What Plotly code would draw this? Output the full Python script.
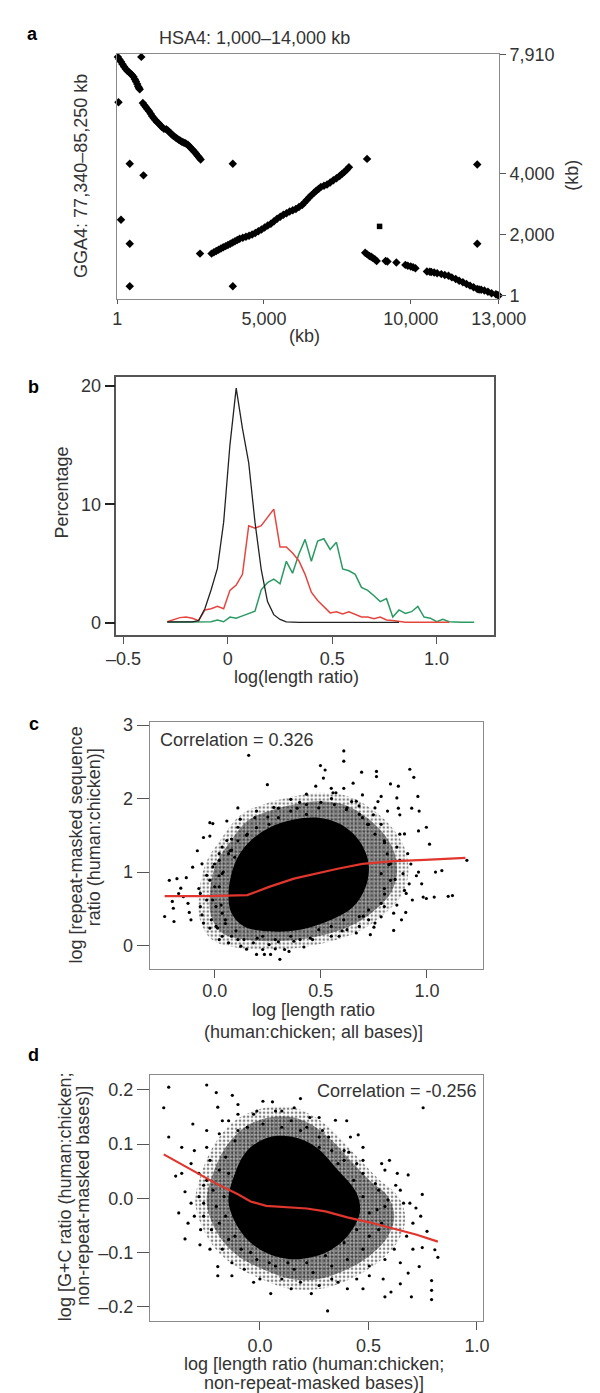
import plotly.graph_objects as go

FONT = "Liberation Sans, Arial, Helvetica, sans-serif"
W, H = 600, 1393

# ---------------- Panel a data (kb) ----------------
a_seg1_x = [21, 75, 128, 180, 234, 290, 340, 395, 447, 500, 553, 600, 638, 680, 713, 740, 766,
            872, 925, 979, 1030, 1085, 1140, 1192, 1245, 1298, 1350, 1404, 1460, 1511, 1590, 1670,
            1720, 1777, 1830, 1883, 1935, 1990, 2040, 2096, 2150, 2202, 2255, 2309, 2360, 2415,
            2470, 2522, 2575, 2628, 2680, 2735, 2790, 2841]
a_seg1_y = [7834, 7750, 7671, 7590, 7509, 7440, 7379, 7335, 7293, 7240, 7185, 7100, 7023, 6940,
            6861, 6810, 6774, 6320, 6250, 6180, 6115, 6051, 5970, 5889, 5820, 5759, 5700, 5652,
            5600, 5543, 5470, 5458, 5415, 5370, 5320, 5263, 5225, 5186, 5150, 5111, 5080, 5046,
            5025, 5004, 4975, 4939, 4885, 4829, 4775, 4722, 4660, 4592, 4530, 4463]
a_seg2_x = [3213, 3293, 3373, 3453, 3533, 3612, 3692, 3772, 3852, 3931, 4011, 4091, 4171, 4278,
            4384, 4490, 4596, 4703, 4809, 4915, 5022, 5128, 5235, 5341, 5448, 5554, 5660, 5766,
            5873, 5980, 6086, 6192, 6299, 6380, 6458, 6538, 6618, 6698, 6778, 6858, 6937, 7044,
            7150, 7256, 7363, 7470, 7576, 7655, 7735, 7815, 7895]
a_seg2_y = [1375, 1418, 1460, 1503, 1546, 1584, 1621, 1660, 1698, 1741, 1784, 1822, 1861, 1893,
            1926, 1963, 2000, 2053, 2107, 2170, 2236, 2296, 2356, 2437, 2519, 2584, 2648, 2700,
            2755, 2800, 2842, 2905, 2972, 3050, 3134, 3215, 3296, 3366, 3436, 3500, 3565, 3600,
            3643, 3712, 3782, 3852, 3922, 3986, 4051, 4132, 4213]
a_seg3_x = [8447, 8520, 8593, 8650, 8700, 8777, 8838, 9144, 9206, 9511, 9817, 9900, 10001, 10080,
            10160, 10552, 10650, 10700, 10797, 10900, 11041, 11160, 11286, 11400, 11531, 11650,
            11776, 11900, 12021, 12140, 12266, 12330, 12400, 12510, 12630, 12755, 12900, 12950, 13000]
a_seg3_y = [1405, 1350, 1297, 1270, 1240, 1189, 1135, 1135, 1113, 1081, 1005, 980, 951, 925,
            897, 789, 780, 770, 756, 730, 702, 675, 648, 595, 540, 486,
            432, 378, 324, 270, 216, 200, 190, 162, 120, 76, 40, 20, 1]
a_iso_x = [819, 43, 426, 894, 128, 426, 426, 2820, 3937, 3937, 8512, 12266, 12266]
a_iso_y = [7834, 6343, 4323, 3944, 2486, 1698, 304, 1375, 4323, 304, 4485, 4300, 1696]
a_sq_x = [8938]
a_sq_y = [2269]

# ---------------- Panel b data ----------------
b_bins = [-0.29, -0.26, -0.23, -0.20, -0.17, -0.14, -0.11, -0.08, -0.05, -0.02, 0.01, 0.04, 0.07,
          0.10, 0.13, 0.16, 0.19, 0.22, 0.25, 0.28, 0.31, 0.34, 0.37, 0.40, 0.43, 0.46, 0.49, 0.52,
          0.55, 0.58, 0.61, 0.64, 0.67, 0.70, 0.73, 0.76, 0.79, 0.82, 0.85, 0.88, 0.91, 0.94, 0.97,
          1.00, 1.03, 1.06, 1.09, 1.12, 1.15, 1.18]
b_black = [0.1, 0.1, 0.1, 0.1, 0.1, 0.2, 1.2, 2.8, 4.6, 8.5, 15.0, 19.8, 16.4, 13.5, 8.5, 4.5, 1.8,
           0.7, 0.3, 0.1, 0.05, 0.05, 0.05, 0.05, 0.05, 0.05, 0.05, 0.05, 0.05, 0.05, 0.05, 0.05,
           0.05, 0.05, 0.05, 0.05, 0.05, 0.05]
b_red = [0.1, 0.3, 0.45, 0.5, 0.4, 0.2, 1.1, 1.2, 1.4, 1.2, 2.75, 3.2, 4.1, 8.2, 8.0, 8.2, 8.9, 9.6,
         6.4, 6.4, 5.9, 5.25, 4.1, 2.6, 1.9, 1.4, 0.85, 0.95, 0.75, 0.95, 0.7, 0.5, 0.5, 0.35, 0.5,
         0.25, 0.2, 0.1, 0.05, 0.05, 0.05, 0.1, 0.05, 0.05, 0.05, 0.05]
b_green = [0.05, 0.05, 0.05, 0.05, 0.05, 0.05, 0.05, 0.1, 0.25, 0.1, 0.5, 0.4, 0.6, 0.8, 1.0, 2.8,
           3.4, 3.7, 3.3, 5.2, 4.2, 5.8, 7.05, 5.2, 6.9, 7.1, 6.2, 6.8, 4.55, 4.4, 4.1, 3.0, 2.75,
           2.3, 1.8, 2.05, 0.5, 1.1, 0.8, 0.95, 1.4, 0.5, 0.4, 0.1, 0.3, 0.1, 0.05, 0.05, 0.05, 0.05]

# ---------------- Panel c data (density outlines, outer to inner) ----------------
c_outer_x = [-0.075, -0.042, 0.024, 0.122, 0.238, 0.369, 0.500, 0.632, 0.730, 0.829, 0.895, 0.912,
             0.878, 0.796, 0.698, 0.566, 0.401, 0.238, 0.105, -0.010, -0.067]
c_outer_y = [0.674, 1.125, 1.427, 1.778, 1.930, 2.029, 2.080, 2.029, 1.879, 1.628, 1.326, 0.975,
             0.674, 0.422, 0.222, 0.070, -0.029, -0.055, -0.029, 0.070, 0.322]
c_halo_x = [-0.023, 0.006, 0.065, 0.153, 0.256, 0.373, 0.490, 0.608, 0.696, 0.784, 0.843, 0.858,
            0.828, 0.755, 0.667, 0.549, 0.402, 0.256, 0.138, 0.035, -0.016]
c_halo_y = [0.709, 1.112, 1.381, 1.695, 1.830, 1.919, 1.964, 1.919, 1.785, 1.561, 1.291, 0.978,
            0.709, 0.484, 0.305, 0.170, 0.081, 0.058, 0.081, 0.170, 0.395]
c_core_x = [0.065, 0.094, 0.153, 0.256, 0.373, 0.490, 0.593, 0.681, 0.725, 0.711, 0.652, 0.549,
            0.402, 0.256, 0.138, 0.079]
c_core_y = [0.709, 1.112, 1.381, 1.605, 1.717, 1.740, 1.650, 1.426, 1.112, 0.798, 0.529, 0.350,
            0.215, 0.193, 0.260, 0.439]
c_pts_x = [0.160, 0.608, 0.608, 0.248, 0.498, 0.52, 0.512, 0.692, 0.762, 0.762, 0.919, 0.938, 0.828,
           0.865, 0.957, 0.928, 0.963, 0.997, 0.96, 1.012, 1.188, 1.07, 1.04, 1.034, 0.997, 0.982,
           0.96, 0.975, 0.88, 0.843, 0.733, 0.586, 0.307, 0.263, 0.234, 0.197, 0.285, -0.236, -0.192,
           -0.195, -0.214, -0.178, -0.134, -0.112, -0.06, -0.104, -0.053, -0.023, -0.009, -0.148,
           -0.075, -0.17, -0.126, -0.068, -0.038, -0.082, 0.006, -0.023,
           0.358, 0.278, 0.432, 0.476, 0.549, 0.557, 0.571, 0.608, 0.652, 0.696, 0.645, 0.769, 0.784,
           0.858, 0.865, 0.814, 0.747, 0.696, 0.784, 0.872, 0.894, 0.858, 0.909, 0.872, 0.924, 0.916,
           0.894, 0.931, 0.858, 0.799, 0.784, 0.725, 0.681, 0.623, 0.549, 0.461, 0.373, 0.256, 0.109,
           0.065, 0.035, 0.013, 0.189, 0.197, 0.109, 0.079, 0.035, 0.021, -0.001, 0.065, 0.3, 0.388,
           0.432, 0.02, 0.0, 0.03, 0.05, 0.1, 0.2, 0.3, 0.45, 0.6, 0.7, 0.8, 0.85, 0.82, 0.8, 0.72,
           0.62, 0.5, 0.4, 0.25, 0.15, 0.08, 1.1, 1.12, 0.75, 0.9, 0.95, 0.15, 0.35, 0.42, -0.2,
           -0.16, -0.12, -0.01, 0.04, 0.12, 0.68, 0.55,
           -0.023, 0.057, 0.072, 0.021, -0.009, 0.035, -0.023, 0.021, -0.038, 0.006, -0.016, 0.05,
           0.035, 0.079, 0.138, 0.182, 0.226, 0.285, 0.358, 0.402, 0.49, 0.549, 0.608, 0.681, 0.725,
           0.784, 0.799, 0.828, 0.784, 0.828, 0.813, 0.799, 0.755, 0.725, 0.681, 0.623, 0.564, 0.49,
           0.432, 0.358, 0.3, 0.256, 0.197, 0.153, 0.109, 0.094, 0.109, 0.057, 0.667, 0.755, 0.872,
           0.887, 0.902, 0.843, 0.755, 0.667, 0.329, 0.226, 0.123, 0.021, -0.053, -0.068, -0.06]
c_pts_y = [2.59, 2.65, 2.51, 2.19, 2.45, 2.39, 2.28, 2.36, 2.37, 2.30, 2.40, 2.29, 2.20,
           2.17, 2.03, 1.87, 1.83, 1.61, 1.56, 1.38, 1.16, 1.02, 1.0, 0.66, 0.64, 0.66,
           1.0, 0.84, 0.35, 0.206, 0.148, 0.126, -0.188, -0.121, -0.121, -0.121, -0.045, 0.395, 0.327,
           0.507, 0.888, 0.91, 0.924, 0.35, 0.417, 1.067, 1.471, 1.673, 1.66, 0.664,
           0.776, 0.708, 0.574, 0.529, 0.955, 1.29, 0.26, 0.238,
           1.99, 1.88, 2.06, 2.17, 2.14, 2.08, 2.08, 2.14, 2.21, 2.05, 1.96, 1.96, 2.03,
           2.01, 1.87, 1.83, 1.78, 1.74, 1.65, 1.78, 1.52, 1.34, 1.25, 1.16, 1.11, 0.84,
           0.75, 0.62, 0.55, 0.53, 0.39, 0.35, 0.26, 0.215, 0.126, 0.081, 0.058, 0.013, 0.081,
           0.036, 0.126, 0.238, 1.74, 1.83, 1.61, 1.45, 1.34, 1.16, 1.11, 1.25, 1.87, 1.87,
           1.92, 0.95, 0.8, 0.55, 0.35, 0.2, 0.1, 0.05, 0.1, 0.2, 0.4, 0.7, 0.9, 1.1, 1.4, 1.65,
           1.85, 1.95, 1.95, 1.75, 1.5, 1.3, 0.67, 0.68, 0.25, 0.45, 0.95, -0.05, -0.08, -0.02, 0.6,
           0.78, 0.45, 0.62, 1.0, 1.72, 1.9, 2.0,
           1.49, 1.43, 1.29, 1.25, 1.07, 0.98, 0.89, 0.80, 0.62, 0.53, 0.35, 0.30,
           0.44, 0.126, 0.081, 0.036, 0.126, 0.081, 0.126, 0.081, 0.215, 0.26, 0.35, 0.395, 0.484,
           0.574, 0.776, 0.888, 0.978, 1.112, 1.247, 1.426, 1.516, 1.65, 1.785, 1.874, 1.919, 1.874,
           1.785, 1.83, 1.74, 1.65, 1.605, 1.516, 1.426, 1.202, 1.874, 1.695, 1.964, 1.874, 1.516,
           0.978, 0.709, 0.44, 0.305, 0.17, -0.054, -0.054, -0.009, 0.081, 0.305, 0.709, 1.112]
c_fit_x = [-0.236, -0.038, 0.153, 0.256, 0.373, 0.49, 0.579, 0.696, 0.843, 0.99, 1.181]
c_fit_y = [0.673, 0.673, 0.686, 0.798, 0.910, 0.987, 1.045, 1.112, 1.148, 1.166, 1.193]

# ---------------- Panel d data (density outlines, outer to inner) ----------------
d_outer_x = [-0.297, -0.265, -0.200, -0.103, 0.025, 0.154, 0.267, 0.348, 0.444, 0.542, 0.638, 0.670,
             0.638, 0.542, 0.429, 0.283, 0.138, -0.007, -0.136, -0.232]
d_outer_y = [-0.0102, 0.0511, 0.1056, 0.1465, 0.1669, 0.1669, 0.1465, 0.1192, 0.0784, 0.0375, 0.0034,
             -0.0375, -0.0784, -0.1192, -0.1465, -0.1669, -0.1669, -0.1465, -0.1192, -0.0784]
d_halo_x = [-0.245, -0.216, -0.158, -0.072, 0.043, 0.158, 0.259, 0.331, 0.417, 0.504, 0.590, 0.619,
            0.590, 0.504, 0.403, 0.273, 0.144, 0.014, -0.101, -0.187]
d_halo_y = [-0.0091, 0.0456, 0.0943, 0.1308, 0.149, 0.149, 0.1308, 0.1064, 0.070, 0.0335, 0.003,
            -0.0335, -0.070, -0.1064, -0.1308, -0.149, -0.149, -0.1308, -0.1064, -0.070]
d_core_x = [-0.144, -0.115, -0.058, 0.043, 0.158, 0.259, 0.360, 0.446, 0.460, 0.403, 0.302, 0.158,
            0.029, -0.072]
d_core_y = [-0.0091, 0.0456, 0.0882, 0.1125, 0.1125, 0.0943, 0.0517, 0.0091, -0.0274, -0.070,
            -0.1004, -0.1125, -0.1004, -0.070]
d_pts_x = [-0.42, -0.443, -0.245, -0.201, -0.127, -0.194, 0.058, 0.187, 0.453, 0.348, 0.4, 0.752,
           -0.42, -0.388, -0.345, -0.345, -0.276, -0.194, -0.194, -0.317, -0.302, -0.36, -0.309,
           -0.317, -0.281, -0.245, 0.05, 0.312, 0.237, 0.403, 0.475, 0.576, 0.604, 0.698, 0.791,
           0.791, 0.791, 0.734, 0.683, 0.647, 0.568, 0.82, 0.748, 0.806, 0.77, 0.741, 0.748, 0.719,
           0.683, 0.633, 0.597, 0.576, 0.475, 0.41, 0.59, 0.626, 0.662, 0.705, 0.676, 0.619, 0.576,
           0.504, 0.446, 0.36, 0.273, 0.187, 0.101, 0.0, -0.072, -0.129, -0.173, -0.223, -0.259,
           -0.281, -0.259, -0.23, -0.187, -0.144, -0.101, -0.014, 0.101, 0.23, 0.288, 0.317, 0.388,
           0.446, 0.532, 0.54, 0.547,
           -0.173, -0.101, -0.029, 0.072, 0.144, 0.216, 0.273, 0.331, 0.388, 0.475, 0.547, 0.576,
           0.561, 0.504, 0.475, 0.403, 0.331, 0.245, 0.158, 0.072, -0.014, -0.086, -0.144, -0.187,
           -0.201, -0.216, -0.187, -0.158, -0.115, -0.058, 0.014, 0.101, 0.187, 0.273, 0.36, 0.432,
           0.475, 0.504, 0.446, 0.388, 0.302, 0.216, 0.129, 0.043, -0.043, -0.115, -0.158, -0.165,
           -0.144, -0.245, -0.259, -0.273, -0.23, -0.129, -0.029, 0.144, 0.331, 0.504, 0.647, 0.705,
           0.691, 0.647, 0.561, 0.475, 0.417, 0.273, 0.158, 0.014, -0.101, -0.245, -0.302, -0.36,
           -0.374, -0.331]
d_pts_y = [0.205, 0.167, 0.209, 0.195, 0.19, 0.168, 0.178, 0.184, 0.117, 0.144, 0.143, 0.167,
           0.113, 0.041, 0.012, -0.075, -0.086, -0.126, -0.143, -0.009, -0.033, 0.094, 0.137,
           0.064, 0.046, 0.094, -0.176, -0.208, -0.176, -0.167, -0.167, -0.182, -0.173, -0.182, -0.187,
           -0.170, -0.152, -0.126, -0.138, -0.158, -0.149, -0.109, -0.091, -0.095, -0.061, -0.033, 0.007, -0.018,
           0.043, 0.046, 0.07, 0.052, 0.07, 0.085, -0.003, 0.024, -0.009, -0.046, -0.07, -0.094, -0.113,
           -0.125, -0.149, -0.155, -0.161, -0.155, -0.149, -0.149, -0.131, -0.119, -0.094, -0.058, -0.033,
           0.003, 0.024, 0.07, 0.119, 0.143, 0.155, 0.161, 0.161, 0.149, 0.125, 0.113, 0.088,
           0.064, 0.027, -0.021, -0.058,
           0.143, 0.125, 0.155, 0.161, 0.143, 0.131, 0.113, 0.088, 0.07, 0.046, 0.015, -0.015,
           -0.046, -0.07, -0.094, -0.113, -0.125, -0.137, -0.131, -0.125, -0.113, -0.094, -0.076, -0.046,
           -0.015, 0.015, 0.052, 0.076, 0.106, 0.131, 0.137, 0.131, 0.125, 0.094, 0.064, 0.033,
           0.003, -0.027, -0.058, -0.082, -0.106, -0.119, -0.119, -0.119, -0.1, -0.07, -0.033, 0.003,
           0.046, 0.033, -0.009, -0.058, -0.094, -0.143, -0.155, -0.167, -0.149, -0.143, -0.119, -0.094,
           -0.009, 0.015, 0.064, 0.094, 0.113, 0.149, 0.167, 0.179, 0.173, 0.125, 0.088, 0.046,
           -0.027, -0.046]
d_fit_x = [-0.443, -0.317, -0.201, -0.101, -0.043, 0.029, 0.115, 0.216, 0.302, 0.403, 0.504, 0.619, 0.719, 0.82]
d_fit_y = [0.081, 0.053, 0.027, 0.0073, -0.006, -0.014, -0.0164, -0.0189, -0.0243, -0.0353, -0.0444,
           -0.056, -0.067, -0.080]

# ---------------- helpers ----------------
def dx(px):
    return px / W

def dy(py):
    return 1 - py / H

BOX = "#8a8a8a"
TXT = "#333333"
TF = dict(size=18, color=TXT, family=FONT)


def axis(**kw):
    base = dict(showgrid=False, zeroline=False, showline=True, mirror=True, linecolor=BOX,
                linewidth=1.2, ticks="outside", tickcolor="#555", tickwidth=1.2, tickfont=TF,
                fixedrange=True)
    base.update(kw)
    return base


fig = go.Figure()

# Panel a
mk = dict(color="black", size=6.5, symbol="diamond")
for xs, ys in [(a_seg1_x, a_seg1_y), (a_seg2_x, a_seg2_y), (a_seg3_x, a_seg3_y), (a_iso_x, a_iso_y)]:
    fig.add_trace(go.Scatter(x=xs, y=ys, mode="markers", marker=mk, xaxis="x", yaxis="y",
                             cliponaxis=False, showlegend=False))
fig.add_trace(go.Scatter(x=a_sq_x, y=a_sq_y, mode="markers",
                         marker=dict(color="black", size=5.5, symbol="square"), xaxis="x", yaxis="y",
                         cliponaxis=False, showlegend=False))

# Panel b
fig.add_trace(go.Scatter(x=b_bins[:len(b_green)], y=b_green, mode="lines",
                         line=dict(color="#2a9a62", width=1.5), xaxis="x2", yaxis="y2", showlegend=False))
fig.add_trace(go.Scatter(x=b_bins[:len(b_red)], y=b_red, mode="lines",
                         line=dict(color="#e5453d", width=1.5), xaxis="x2", yaxis="y2", showlegend=False))
fig.add_trace(go.Scatter(x=b_bins[:len(b_black)], y=b_black, mode="lines",
                         line=dict(color="#222222", width=1.3), xaxis="x2", yaxis="y2", showlegend=False))

# Panels c, d
def cloud(layers, cx, cy, px, py, fx, fy, xa, ya):
    for xs, ys, sol, sz in layers:
        fig.add_trace(go.Scatter(x=xs + xs[:1], y=ys + ys[:1], mode="lines", fill="toself",
                                 line=dict(width=0, color="black", shape="spline", smoothing=1.0),
                                 fillcolor="rgba(0,0,0,0)",
                                 fillpattern=dict(shape=".", size=sz, solidity=sol, fgcolor="black"),
                                 xaxis=xa, yaxis=ya, showlegend=False, hoverinfo="skip"))
    fig.add_trace(go.Scatter(x=cx + cx[:1], y=cy + cy[:1], mode="lines", fill="toself",
                             line=dict(width=0, color="black", shape="spline", smoothing=1.0),
                             fillcolor="black", xaxis=xa, yaxis=ya, showlegend=False, hoverinfo="skip"))
    fig.add_trace(go.Scatter(x=px, y=py, mode="markers", marker=dict(color="black", size=3.2),
                             xaxis=xa, yaxis=ya, showlegend=False))
    fig.add_trace(go.Scatter(x=fx, y=fy, mode="lines", line=dict(color="#e0362d", width=2.2),
                             xaxis=xa, yaxis=ya, showlegend=False))

cloud([(c_outer_x, c_outer_y, 0.35, 4), (c_halo_x, c_halo_y, 0.8, 3)],
      c_core_x, c_core_y, c_pts_x, c_pts_y, c_fit_x, c_fit_y, "x3", "y3")
cloud([(d_outer_x, d_outer_y, 0.35, 4), (d_halo_x, d_halo_y, 0.8, 3)],
      d_core_x, d_core_y, d_pts_x, d_pts_y, d_fit_x, d_fit_y, "x4", "y4")

fig.update_layout(
    width=W, height=H, margin=dict(l=0, r=0, t=0, b=0),
    paper_bgcolor="white", plot_bgcolor="white", showlegend=False,
    font=dict(family=FONT, color=TXT, size=18),
    xaxis=axis(domain=[dx(106), dx(513.3)], anchor="y", range=[1, 13000],
               tickvals=[1, 5000, 10000, 13000], ticktext=["1", "5,000", "10,000", "13,000"], ticklen=4),
    yaxis=axis(domain=[dy(285), dy(37.7)], anchor="x", side="right", range=[-106, 7920],
               tickvals=[1, 2000, 4000, 7910], ticktext=["1", "2,000", "4,000", "7,910"], ticklen=6),
    xaxis2=axis(domain=[dx(105), dx(508)], anchor="y2", range=[-0.534, 1.274], linecolor="#555",
                linewidth=1.5, tickvals=[-0.5, 0, 0.5, 1.0], ticktext=["\u20130.5", "0", "0.5", "1.0"],
                ticklen=7),
    yaxis2=axis(domain=[dy(625), dy(364.3)], anchor="x2", range=[-1.0, 20.73], linecolor="#555",
                linewidth=1.5, tickvals=[0, 10, 20], ticktext=["0", "10", "20"], ticklen=10,
                tickwidth=2, tickcolor="#222"),
    xaxis3=axis(domain=[dx(140.7), dx(496.7)], anchor="y3", range=[-0.306, 1.265],
                tickvals=[0, 0.5, 1.0], ticktext=["0.0", "0.5", "1.0"], ticklen=8,
                ticklabelstandoff=-3),
    yaxis3=axis(domain=[dy(963.3), dy(712.7)], anchor="x3", range=[-0.323, 3.05],
                tickvals=[0, 1, 2, 3], ticktext=["0", "1", "2", "3"], ticklen=12),
    xaxis4=axis(domain=[dx(141), dx(496)], anchor="y4", range=[-0.506, 1.026],
                tickvals=[0, 0.5, 1.0], ticktext=["0.0", "0.5", "1.0"], ticklen=8),
    yaxis4=axis(domain=[dy(1319.3), dy(1070)], anchor="x4", range=[-0.2268, 0.228],
                tickvals=[-0.2, -0.1, 0, 0.1, 0.2],
                ticktext=["\u20130.2", "\u20130.1", "0.0", "0.1", "0.2"], ticklen=12),
)

ann = []
def text(t, px, py, angle=0, xanchor="center", size=18, bold=False, color=TXT):
    ann.append(dict(text=("<b>%s</b>" % t) if bold else t, x=dx(px), y=dy(py), xref="paper",
                    yref="paper", showarrow=False, textangle=angle, xanchor=xanchor,
                    yanchor="middle", font=dict(size=size, family=FONT, color=color)))

text("a", 16, 17, bold=True, color="black")
text("b", 17, 374, bold=True, color="black")
text("c", 17, 715, bold=True, color="black")
text("d", 17, 1050, bold=True, color="black")
text("HSA4: 1,000\u201314,000 kb", 252, 21.7)
text("GGA4: 77,340\u201385,250 kb", 67, 161, angle=-90)
text("(kb)", 592, 160, angle=-90)
text("(kb)", 306, 323)
text("Percentage", 48, 481, angle=-90)
text("log(length ratio)", 297, 668)
text("log [repeat-masked sequence", 62, 838, angle=-90)
text("ratio (human:chicken)]", 82, 830, angle=-90)
text("log [length ratio", 315, 1005)
text("(human:chicken; all bases)]", 315, 1027)
text("Correlation = 0.326", 149, 731.7, xanchor="left")
text("log [G+C ratio (human:chicken;", 50, 1193, angle=-90)
text("non-repeat-masked bases)]", 70, 1193, angle=-90)
text("log [length ratio (human:chicken;", 316, 1363)
text("non-repeat-masked bases)]", 316, 1382)
text("Correlation = -0.256", 491.7, 1086.7, xanchor="right")
fig.update_layout(annotations=ann)

fig.write_html("out.html")
